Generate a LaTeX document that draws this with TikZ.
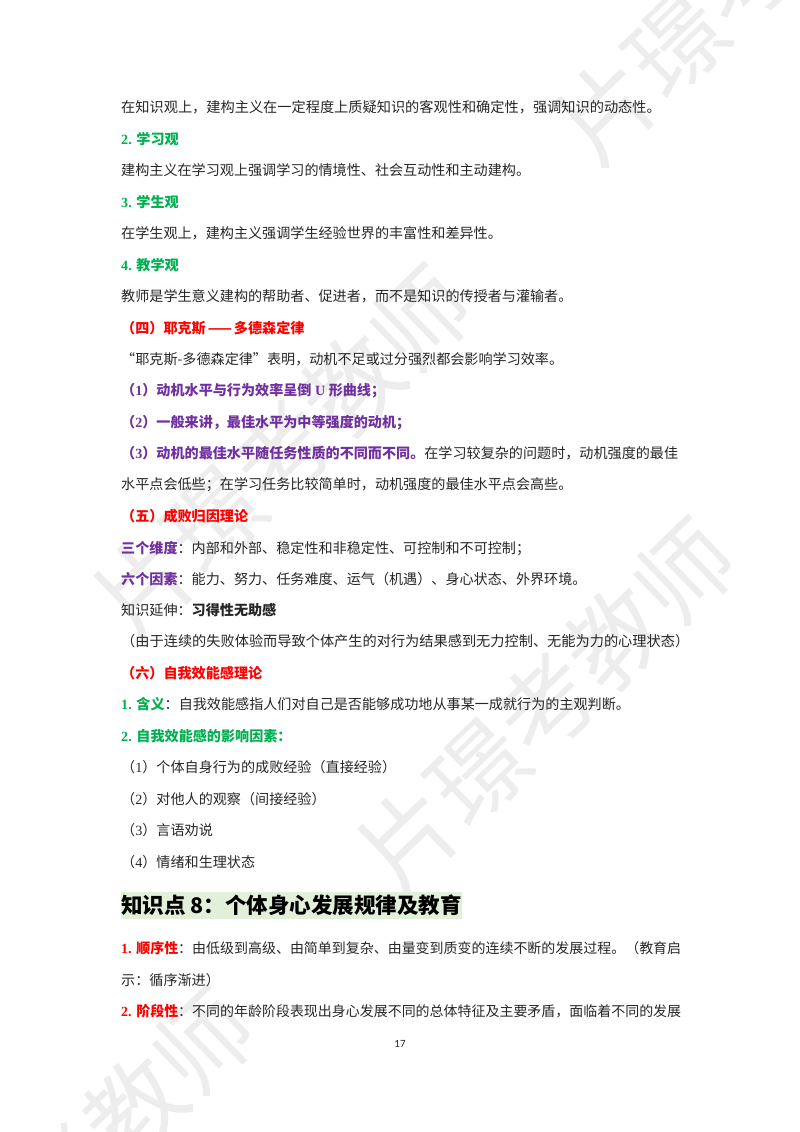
\documentclass[tikz,border=0pt]{standalone}
\usepackage{fontspec}
\setmainfont{Noto Sans CJK SC}
\newfontfamily\romfont{Liberation Serif}
\newfontfamily\pagefont{Carlito}
\definecolor{wmgray}{HTML}{EDEDED}
\definecolor{bodyink}{HTML}{262626}
\definecolor{gn}{HTML}{00B050}
\definecolor{rd}{HTML}{FF0000}
\definecolor{pu}{HTML}{7030A0}
\definecolor{headbg}{HTML}{E2EFD9}
\newcommand{\rom}[1]{{\romfont #1}}
\newcommand{\gnb}[1]{\textcolor{gn}{\bfseries #1}}
\newcommand{\rdb}[1]{\textcolor{rd}{\bfseries #1}}
\newcommand{\pub}[1]{\textcolor{pu}{\bfseries #1}}
\begin{document}
\begin{tikzpicture}[x=1pt, y=-1pt,
    wm/.style={inner sep=0, rotate=44, text=wmgray, font=\fontsize{96}{96}\selectfont},
    n/.style={anchor=base west, inner sep=0, text=bodyink, font=\fontsize{14.1}{14.1}\selectfont},
    nw/.style={n, font=\fontsize{14.2}{14.2}\selectfont},
    nt/.style={n, font=\fontsize{13.97}{13.97}\selectfont},
    head/.style={anchor=base west, fill=headbg, inner xsep=0, inner ysep=0, text=black, text height=21pt, text depth=6pt, font=\fontsize{21.5}{21.5}\selectfont\bfseries},
    pg/.style={anchor=base, inner sep=0, text=bodyink, font=\fontsize{11}{11}\selectfont\pagefont}]
    \useasboundingbox (0, 0) rectangle (800, 1132);

    \node[wm] (wmc) at (547, 705) {片璟考教师};
    \node[wm] (wmb) at (283, 452) {片璟考教师};
    \node[wm] (wma) at (745, -23) {片璟考教师};
    \node[wm] (wmd) at (66, 1175) {片璟考教师};

    \node[nw] (l1) at (121, 112) {在知识观上，建构主义在一定程度上质疑知识的客观性和确定性，强调知识的动态性。};
    \node[n] (l2) at (121, 144) {\gnb{\rom{2. }学习观}};
    \node[n] (l3) at (121, 175) {建构主义在学习观上强调学习的情境性、社会互动性和主动建构。};
    \node[n] (l4) at (121, 207) {\gnb{\rom{3. }学生观}};
    \node[n] (l5) at (121, 238) {在学生观上，建构主义强调学生经验世界的丰富性和差异性。};
    \node[n] (l6) at (121, 270) {\gnb{\rom{4. }教学观}};
    \node[n] (l7) at (121, 301) {教师是学生意义建构的帮助者、促进者，而不是知识的传授者与灌输者。};
    \node[n] (l8) at (121, 333) {\rdb{（四）耶克斯\hspace{2pt}——\hspace{2pt}多德森定律}};
    \node[n] (l9) at (121, 364) {\makebox[1em][r]{“}耶克斯-多德森定律”表明，动机不足或过分强烈都会影响学习效率。};
    \node[n] (l10) at (121, 395) {\pub{（\rom{1}）动机水平与行为效率呈倒\rom{ U }形曲线；}};
    \node[n] (l11) at (121, 427) {\pub{（\rom{2}）一般来讲，最佳水平为中等强度的动机；}};
    \node[n] (l12) at (121, 458) {\pub{（\rom{3}）动机的最佳水平随任务性质的不同而不同。}在学习较复杂的问题时，动机强度的最佳};
    \node[n] (l13) at (121, 489) {水平点会低些；在学习任务比较简单时，动机强度的最佳水平点会高些。};
    \node[n] (l14) at (121, 521) {\rdb{（五）成败归因理论}};
    \node[n] (l15) at (121, 553) {\pub{三个维度}：内部和外部、稳定性和非稳定性、可控制和不可控制；};
    \node[n] (l16) at (121, 584) {\pub{六个因素}：能力、努力、任务难度、运气（机遇）、身心状态、外界环境。};
    \node[n] (l17) at (121, 615) {知识延伸：\textbf{习得性无助感}};
    \node[nw] (l18) at (121, 646) {（由于连续的失败体验而导致个体产生的对行为结果感到无力控制、无能为力的心理状态）};
    \node[n] (l19) at (121, 678) {\rdb{（六）自我效能感理论}};
    \node[n] (l20) at (121, 709) {\gnb{\rom{1. }含义}：自我效能感指人们对自己是否能够成功地从事某一成就行为的主观判断。};
    \node[n] (l21) at (121, 741) {\gnb{\rom{2. }自我效能感的影响因素：}};
    \node[n] (l22) at (121, 772) {（\rom{1}）个体自身行为的成败经验（直接经验）};
    \node[n] (l23) at (121, 804) {（\rom{2}）对他人的观察（间接经验）};
    \node[n] (l24) at (121, 835) {（\rom{3}）言语劝说};
    \node[n] (l25) at (121, 867) {（\rom{4}）情绪和生理状态};

    \node[head] (head8) at (121, 913) {知识点 8：个体身心发展规律及教育};

    \node[nt] (l26) at (121, 953) {\rdb{\rom{1. }顺序性}：由低级到高级、由简单到复杂、由量变到质变的连续不断的发展过程。（教育启};
    \node[n] (l27) at (121, 985) {示：循序渐进）};
    \node[nt] (l28) at (121, 1016) {\rdb{\rom{2. }阶段性}：不同的年龄阶段表现出身心发展不同的总体特征及主要矛盾，面临着不同的发展};

    \node[pg] (pageno) at (400, 1047) {17};
\end{tikzpicture}
\end{document}
